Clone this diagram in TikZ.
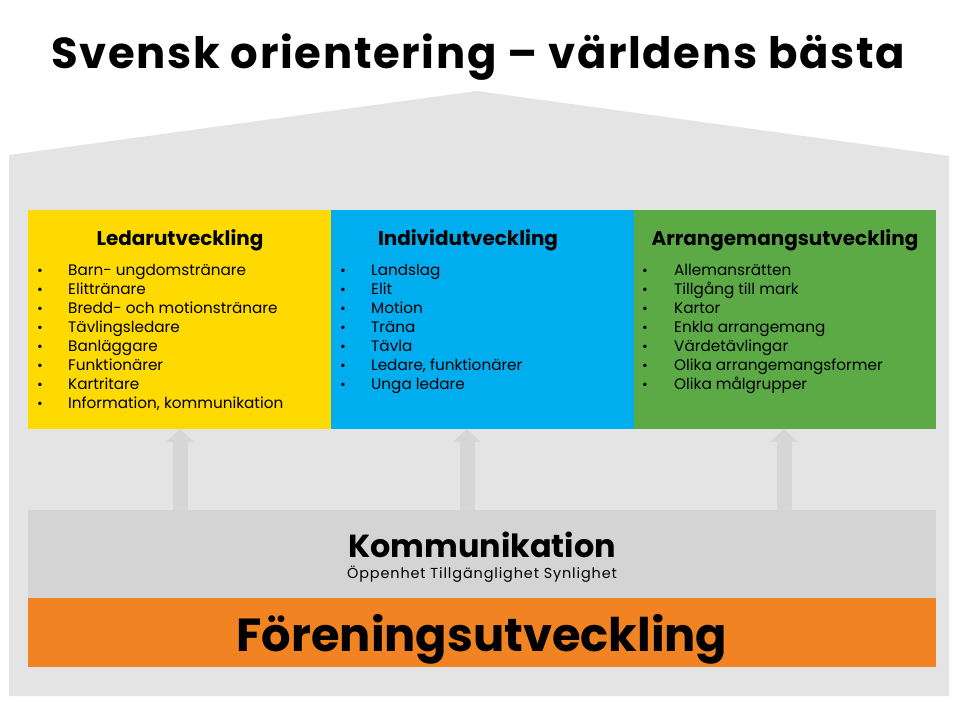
\documentclass[tikz,border=0pt]{standalone}
\usepackage{fontspec}
\setmainfont{Poppins}
\usetikzlibrary{arrows.meta}
\definecolor{housegray}{HTML}{E4E4E4}
\definecolor{bandgray}{HTML}{D4D4D4}
\definecolor{arrowgray}{HTML}{D6D6D6}
\definecolor{yel}{HTML}{FEDA00}
\definecolor{blu}{HTML}{00AEEF}
\definecolor{grn}{HTML}{5BAA46}
\definecolor{org}{HTML}{F28322}
\tikzset{
  panel/.style={inner sep=0pt, outer sep=0pt, anchor=north west},
  headtext/.style={anchor=base, inner sep=0pt, font=\fontsize{20}{22}\selectfont\bfseries},
  itemtext/.style={anchor=base west, inner sep=0pt, font=\fontsize{15.3}{17}\selectfont},
  bullettext/.style={anchor=base, inner sep=0pt, font=\fontsize{14}{16}\selectfont},
  uparrow/.style={draw=arrowgray, line width=15bp, -{Triangle[width=27bp,length=13bp]}},
}
\begin{document}
\begin{tikzpicture}[x=1bp,y=-1bp]
\fill[white] (0,0) rectangle (960,720);
\useasboundingbox (0,0) rectangle (960,720);
% house
\fill[housegray] (9,155) -- (477,91) -- (949,156) -- (949,696) -- (9,696) -- cycle;
% title
\node[anchor=base, inner sep=0pt, font=\fontsize{43.5}{45}\selectfont\bfseries\addfontfeatures{LetterSpace=3.8}] (title) at (478,69) {Svensk orientering – världens bästa};
% panels
\node[panel, fill=yel, minimum width=303bp, minimum height=219bp] (led) at (28,210) {};
\node[panel, fill=blu, minimum width=303bp, minimum height=219bp] (ind) at (331,210) {};
\node[panel, fill=grn, minimum width=302bp, minimum height=219bp] (arr) at (634,210) {};
\node[headtext] (ledh) at (180,245) {Ledarutveckling};
\node[headtext] (indh) at (468,245) {Individutveckling};
\node[headtext] (arrh) at (785,245) {Arrangemangsutveckling};
\foreach \t [count=\i] in {Barn- ungdomstränare, Elittränare, Bredd- och motionstränare, Tävlingsledare, Banläggare, Funktionärer, Kartritare, {Information, kommunikation}}{
  \node[bullettext] (ledb\i) at (40,{275+19*(\i-1)}) {•};
  \node[itemtext] (ledi\i) at (68,{275+19*(\i-1)}) {\t};
}
\foreach \t [count=\i] in {Landslag, Elit, Motion, Träna, Tävla, {Ledare, funktionärer}, Unga ledare}{
  \node[bullettext] (indb\i) at (343,{275+19*(\i-1)}) {•};
  \node[itemtext] (indi\i) at (371,{275+19*(\i-1)}) {\t};
}
\foreach \t [count=\i] in {Allemansrätten, Tillgång till mark, Kartor, Enkla arrangemang, Värdetävlingar, Olika arrangemangsformer, Olika målgrupper}{
  \node[bullettext] (arrb\i) at (645,{275+19*(\i-1)}) {•};
  \node[itemtext] (arri\i) at (674,{275+19*(\i-1)}) {\t};
}
% bands
\node[panel, fill=bandgray, minimum width=908bp, minimum height=88bp] (komm) at (28,510) {};
\node[panel, fill=org, minimum width=908bp, minimum height=69bp] (fore) at (28,598) {};
\node[anchor=base, inner sep=0pt, font=\fontsize{32}{34}\selectfont\bfseries] (kommt) at (482,557) {Kommunikation};
\node[anchor=base, inner sep=0pt, font=\fontsize{14.5}{16}\selectfont\addfontfeatures{LetterSpace=6}] (kommsub) at (482,578) {Öppenhet Tillgänglighet Synlighet};
\node[anchor=base, inner sep=0pt, font=\fontsize{46.5}{48}\selectfont\bfseries] (foret) at (482,651) {Föreningsutveckling};
% arrows
\coordinate (a1) at (180,429);
\coordinate (a2) at (467,429);
\coordinate (a3) at (784,429);
\draw[uparrow] (komm.north -| a1) -- (a1);
\draw[uparrow] (komm.north -| a2) -- (a2);
\draw[uparrow] (komm.north -| a3) -- (a3);
\end{tikzpicture}
\end{document}
